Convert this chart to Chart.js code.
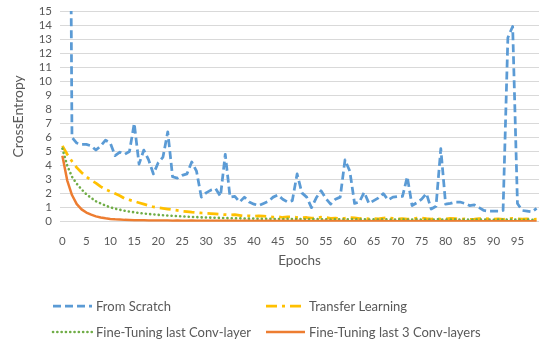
<!DOCTYPE html>
<html>
<head>
<meta charset="utf-8">
<script src="https://cdn.jsdelivr.net/npm/chart.js@4.4.1/dist/chart.umd.min.js"></script>
<style>
html,body{margin:0;padding:0;background:#fff;}
canvas{display:block;}
</style>
</head>
<body>
<canvas id="c" width="550" height="346"></canvas>
<script>
// ---- data ----
const epochs = Array.from({length: 100}, (_, i) => String(i));
const xTickLabels = ["0","5","10","15","20","25","30","35","40","45","50","55","60","65","70","75","80","85","90","95"];
const yTicks = [0,1,2,3,4,5,6,7,8,9,10,11,12,13,14,15];

const fromScratch = [
  70, 60, 6.0, 5.6, 5.5, 5.5, 5.4, 5.1, 5.4, 5.8,
  5.6, 4.7, 4.95, 4.8, 5.0, 7.0, 4.1, 5.1, 4.4, 3.4,
  4.2, 4.6, 6.4, 3.2, 3.1, 3.3, 3.4, 4.25, 3.6, 1.75,
  2.05, 2.25, 2.35, 1.8, 4.8, 1.75, 1.8, 1.4, 1.75, 1.4,
  1.25, 1.15, 1.3, 1.45, 1.75, 1.9, 1.6, 1.4, 1.5, 3.4,
  2.05, 1.75, 1.0, 1.7, 2.2, 1.65, 1.25, 1.6, 1.75, 4.4,
  3.6, 1.3, 1.4, 2.1, 1.3, 1.5, 1.7, 2.0, 1.55, 1.75,
  1.8, 1.8, 3.2, 1.15, 1.35, 1.6, 2.0, 0.9, 1.1, 5.2,
  1.25, 1.3, 1.4, 1.4, 1.3, 1.15, 1.2, 1.0, 0.8, 0.75,
  0.75, 0.75, 0.8, 13.1, 13.9, 1.3, 0.8, 0.75, 0.7, 0.95
];
const transferLearning = [
  5.4, 4.8, 4.3, 3.85, 3.5, 3.2, 2.95, 2.75, 2.5, 2.3,
  2.15, 2.0, 1.85, 1.65, 1.55, 1.45, 1.35, 1.25, 1.15, 1.05,
  1.0, 0.95, 0.9, 0.85, 0.8, 0.75, 0.72, 0.68, 0.65, 0.62,
  0.6, 0.58, 0.55, 0.52, 0.5, 0.48, 0.5, 0.45, 0.4, 0.42,
  0.38, 0.42, 0.4, 0.36, 0.33, 0.35, 0.3, 0.34, 0.36, 0.3,
  0.28, 0.3, 0.25, 0.27, 0.32, 0.3, 0.24, 0.26, 0.22, 0.25,
  0.3, 0.28, 0.22, 0.24, 0.2, 0.23, 0.2, 0.26, 0.28, 0.24,
  0.2, 0.22, 0.18, 0.2, 0.25, 0.26, 0.22, 0.19, 0.21, 0.18,
  0.2, 0.24, 0.22, 0.18, 0.2, 0.17, 0.19, 0.22, 0.24, 0.2,
  0.18, 0.2, 0.17, 0.2, 0.23, 0.2, 0.18, 0.2, 0.17, 0.18
];
const fineTuneLast = [
  5.2, 4.0, 3.2, 2.7, 2.3, 1.95, 1.7, 1.45, 1.3, 1.15,
  1.02, 0.93, 0.85, 0.78, 0.72, 0.67, 0.62, 0.58, 0.55, 0.52,
  0.49, 0.46, 0.44, 0.42, 0.4, 0.38, 0.36, 0.34, 0.33, 0.31,
  0.3, 0.29, 0.28, 0.27, 0.26, 0.25, 0.24, 0.24, 0.23, 0.22,
  0.22, 0.21, 0.2, 0.21, 0.19, 0.2, 0.18, 0.2, 0.19, 0.18,
  0.19, 0.17, 0.18, 0.19, 0.17, 0.18, 0.16, 0.18, 0.17, 0.16,
  0.18, 0.17, 0.16, 0.17, 0.15, 0.17, 0.16, 0.18, 0.16, 0.15,
  0.16, 0.17, 0.15, 0.16, 0.17, 0.15, 0.16, 0.15, 0.17, 0.16,
  0.15, 0.16, 0.17, 0.15, 0.16, 0.14, 0.16, 0.15, 0.16, 0.15,
  0.14, 0.15, 0.16, 0.14, 0.15, 0.16, 0.14, 0.15, 0.14, 0.15
];
const fineTuneLast3 = [
  4.7, 2.95, 1.9, 1.25, 0.88, 0.65, 0.5, 0.38, 0.3, 0.24,
  0.2, 0.17, 0.15, 0.13, 0.12, 0.11, 0.1, 0.1, 0.09, 0.09,
  0.08, 0.08, 0.08, 0.07, 0.08, 0.07, 0.07, 0.08, 0.07, 0.06,
  0.07, 0.06, 0.07, 0.06, 0.06, 0.07, 0.06, 0.05, 0.06, 0.06,
  0.05, 0.06, 0.05, 0.06, 0.05, 0.05, 0.06, 0.05, 0.05, 0.06,
  0.05, 0.05, 0.04, 0.05, 0.05, 0.06, 0.05, 0.04, 0.05, 0.05,
  0.04, 0.05, 0.05, 0.04, 0.05, 0.04, 0.05, 0.05, 0.04, 0.05,
  0.04, 0.04, 0.05, 0.04, 0.05, 0.04, 0.04, 0.05, 0.04, 0.04,
  0.05, 0.04, 0.04, 0.05, 0.04, 0.04, 0.03, 0.04, 0.04, 0.05,
  0.04, 0.04, 0.03, 0.04, 0.04, 0.03, 0.04, 0.04, 0.03, 0.04
];
const seriesNames = ["From Scratch", "Transfer Learning", "Fine-Tuning last Conv-layer", "Fine-Tuning last 3 Conv-layers"];

// ---- styles ----
const TXT = '#595959';
const FONT = 'Lato, "Open Sans", sans-serif';
const styles = [
  {color: '#5B9BD5', dash: [8, 4], width: 2.75, cap: 'butt'},
  {color: '#FFC000', dash: [11, 5, 3, 5], width: 2.75, cap: 'butt'},
  {color: '#70AD47', dash: [0.1, 4.2], width: 2.6, cap: 'round'},
  {color: '#ED7D31', dash: [], width: 2.5, cap: 'butt'}
];
const seriesData = [fromScratch, transferLearning, fineTuneLast, fineTuneLast3];

const datasets = seriesData.map((d, i) => ({
  label: seriesNames[i],
  data: d,
  borderColor: styles[i].color,
  backgroundColor: styles[i].color,
  borderWidth: styles[i].width,
  borderDash: styles[i].dash,
  borderCapStyle: styles[i].cap,
  borderJoinStyle: 'round',
  pointRadius: 0,
  pointHoverRadius: 0,
  tension: 0,
  fill: false
})).reverse();

const legendPlugin = {
  id: 'customLegend',
  afterDraw(chart) {
    const ctx = chart.ctx;
    const items = [
      {x: 53, y: 306}, {x: 266, y: 306},
      {x: 53, y: 332}, {x: 266, y: 332}
    ];
    ctx.save();
    items.forEach((p, i) => {
      const s = styles[i];
      ctx.beginPath();
      ctx.strokeStyle = s.color;
      ctx.lineWidth = s.width;
      ctx.setLineDash(s.dash);
      ctx.lineCap = s.cap;
      ctx.moveTo(p.x, p.y);
      ctx.lineTo(p.x + 39, p.y);
      ctx.stroke();
      ctx.setLineDash([]);
      ctx.fillStyle = TXT;
      ctx.font = '13px ' + FONT;
      ctx.textBaseline = 'middle';
      ctx.textAlign = 'left';
      ctx.fillText(seriesNames[i], p.x + 43, p.y + 1);
    });
    ctx.restore();
  }
};

new Chart(document.getElementById('c'), {
  type: 'line',
  data: {labels: epochs, datasets},
  options: {
    responsive: false,
    animation: false,
    devicePixelRatio: 1,
    layout: {padding: {top: 11, right: 11, bottom: 79, left: 10}},
    plugins: {legend: {display: false}, tooltip: {enabled: false}},
    scales: {
      x: {
        offset: true,
        grid: {display: false},
        border: {display: false},
        ticks: {
          autoSkip: false, maxRotation: 0, minRotation: 0,
          color: TXT, font: {family: FONT, size: 11.5}, padding: 5,
          callback: (v, i) => xTickLabels.includes(epochs[i]) ? epochs[i] : null
        },
        title: {display: true, text: 'Epochs', color: TXT, font: {family: FONT, size: 13.5, lineHeight: 1.0}, padding: {top: 0, bottom: 0}}
      },
      y: {
        min: 0, max: 15,
        afterBuildTicks: (s) => { s.ticks = yTicks.map(v => ({value: v})); },
        grid: {color: '#D9D9D9', lineWidth: 1, drawTicks: false},
        border: {display: false},
        ticks: {autoSkip: false, stepSize: 1, color: TXT, font: {family: FONT, size: 11.5}, padding: 8},
        title: {display: true, text: 'CrossEntropy', color: TXT, font: {family: FONT, size: 14}, padding: {top: 0, bottom: 4}},
        afterFit: (s) => { s.width = 50; s.paddingTop = 0; s.paddingBottom = 0; }
      }
    }
  },
  plugins: [legendPlugin]
});
</script>
</body>
</html>
